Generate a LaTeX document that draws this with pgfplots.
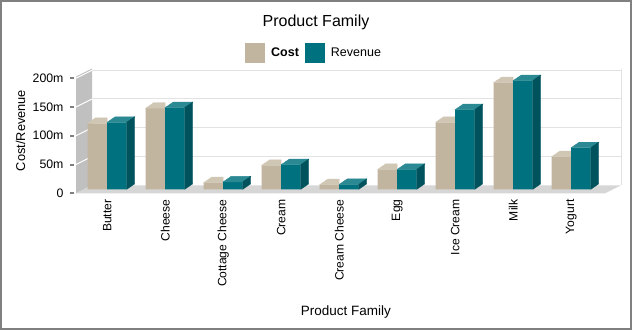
\documentclass[border=0pt]{standalone}
\usepackage{fontspec}
\setmainfont{Liberation Sans}
\usepackage{pgfplots}
\pgfplotsset{compat=1.18}

\definecolor{costF}{HTML}{C2B59F}
\definecolor{costT}{HTML}{D0C6B4}
\definecolor{costS}{HTML}{A89C86}
\definecolor{revF}{HTML}{00717F}
\definecolor{revT}{HTML}{2B8993}
\definecolor{revS}{HTML}{00535D}
\definecolor{wallC}{HTML}{C0C0C0}
\definecolor{floorC}{HTML}{D6D6D6}
\definecolor{gridC}{HTML}{E2E2E2}
\definecolor{frameC}{HTML}{808080}

\pgfdeclareplotmark{nothing}{}
\def\yu{0.57537}

\pgfplotsset{
  costfaces/.style={%
    scatter, only marks, mark=nothing, forget plot,
    scatter/@pre marker code/.code={%
      \fill[costT] (-19.5pt,0pt) -- (0pt,0pt) -- (0pt,5.5pt) -- (-11.5pt,5.5pt) -- cycle;
    },
    scatter/@post marker code/.code={},
  },
  revfaces/.style={%
    scatter, only marks, mark=nothing, forget plot,
    visualization depends on={rawy \as \barval},
    scatter/@pre marker code/.code={%
      \pgfmathsetmacro\hh{\barval*\yu}%
      \fill[revT] (0pt,0pt) -- (19.5pt,0pt) -- (27.5pt,5.5pt) -- (8pt,5.5pt) -- cycle;
      \fill[revS] (19.5pt,0pt) -- (27.5pt,5.5pt) -- (27.5pt,5.5pt-\hh pt) -- (19.5pt,-\hh pt) -- cycle;
    },
    scatter/@post marker code/.code={},
  },
}

\begin{document}
\begin{tikzpicture}
\fill[white] (0pt,0pt) rectangle (632pt,330pt);
\draw[frameC, line width=2pt] (1pt,1pt) rectangle (631pt,329pt);
\begin{axis}[
  at={(84pt,140.7pt)}, anchor=south west,
  scale only axis, width=529pt, height=116.8pt,
  xmin=-0.4, xmax=8.72, ymin=0, ymax=203,
  clip=false, clip marker paths=true,
  axis line style={draw=none},
  tick style={draw=none},
  xtick={0,...,8},
  xticklabels={Butter,Cheese,Cottage Cheese,Cream,Cream Cheese,Egg,Ice Cream,Milk,Yogurt},
  xticklabel style={yshift=-6.7pt, rotate=90, anchor=east, font=\fontsize{12.1}{14}\selectfont},
  ytick={0,50,100,150,200},
  yticklabels={0,50m,100m,150m,200m},
  yticklabel style={xshift=-17pt, yshift=-4pt, anchor=east, font=\fontsize{12.3}{14}\selectfont},
  title={Product Family},
  every axis title/.style={at={(axis description cs:0.4386,1.425)}, anchor=center, font=\fontsize{16}{18}\selectfont},
  xlabel={Product Family},
  every axis x label/.style={at={(axis description cs:0.495,-1.0505)}, anchor=center, font=\fontsize{13.5}{15}\selectfont},
  ylabel={Cost/Revenue},
  every axis y label/.style={at={(axis description cs:-0.12,0.503)}, rotate=90, anchor=center, font=\fontsize{12.8}{15}\selectfont},
  legend columns=2,
  legend style={at={(axis description cs:0.3043,1.165)}, anchor=west, draw=none, fill=none,
    inner sep=0pt, column sep=0pt, font=\fontsize{12.5}{14}\selectfont,
    nodes={inner sep=0pt},
    /tikz/every odd column/.style={column sep=6pt},
    /tikz/every even column/.style={column sep=6pt}},
]
% wall, floor, back grid
\fill[wallC] ([shift={(-8pt,-4pt)}]axis cs:-0.4,0) -- ([shift={(-8pt,-4pt)}]axis cs:-0.4,203) -- ([shift={(8pt,4pt)}]axis cs:-0.4,203) -- ([shift={(8pt,4pt)}]axis cs:-0.4,0) -- cycle;
\fill[floorC] ([shift={(-8pt,-4pt)}]axis cs:-0.4,0) -- ([shift={(-8pt,-4pt)}]axis cs:8.72,0) -- ([shift={(8pt,4pt)}]axis cs:8.72,0) -- ([shift={(8pt,4pt)}]axis cs:-0.4,0) -- cycle;
\draw[gridC, line width=1pt] ([shift={(8pt,4pt)}]axis cs:8.72,0) -- ([shift={(8pt,4pt)}]axis cs:8.72,203);
\pgfplotsinvokeforeach{50,100,150,200}{
  \draw[gridC, line width=1pt] ([shift={(8pt,4pt)}]axis cs:-0.4,#1) -- ([shift={(8pt,4pt)}]axis cs:8.72,#1);
  \draw[white, line width=1pt] ([shift={(-8pt,-4pt)}]axis cs:-0.4,#1) -- ([shift={(8pt,4pt)}]axis cs:-0.4,#1);
}
\pgfplotsinvokeforeach{0,50,100,150,200}{
  \draw[frameC, line width=2pt] ([shift={(-14pt,-4pt)}]axis cs:-0.4,#1) -- ([shift={(-10pt,-4pt)}]axis cs:-0.4,#1);
}

\addplot[ybar, bar width=19.5pt, bar shift=-9.75pt, fill=costF, draw=none,
  legend image code/.code={\fill[costF] (0pt,-10pt) rectangle (20pt,10pt);}]
  coordinates {(0,114.8) (1,140.9) (2,11.5) (3,41.7) (4,8) (5,34.6) (6,116.5) (7,185.4) (8,56.7)};
\addplot[costfaces]
  coordinates {(0,114.8) (1,140.9) (2,11.5) (3,41.7) (4,8) (5,34.6) (6,116.5) (7,185.4) (8,56.7)};
\addplot[ybar, bar width=19.5pt, bar shift=9.75pt, fill=revF, draw=none,
  legend image code/.code={\fill[revF] (0pt,-10pt) rectangle (20pt,10pt);}]
  coordinates {(0,116.5) (1,142) (2,13) (3,42.8) (4,8.5) (5,34.6) (6,138.5) (7,188.9) (8,72.3)};
\addplot[revfaces]
  coordinates {(0,116.5) (1,142) (2,13) (3,42.8) (4,8.5) (5,34.6) (6,138.5) (7,188.9) (8,72.3)};
\legend{\textbf{Cost},Revenue}
\end{axis}
\end{tikzpicture}
\end{document}
